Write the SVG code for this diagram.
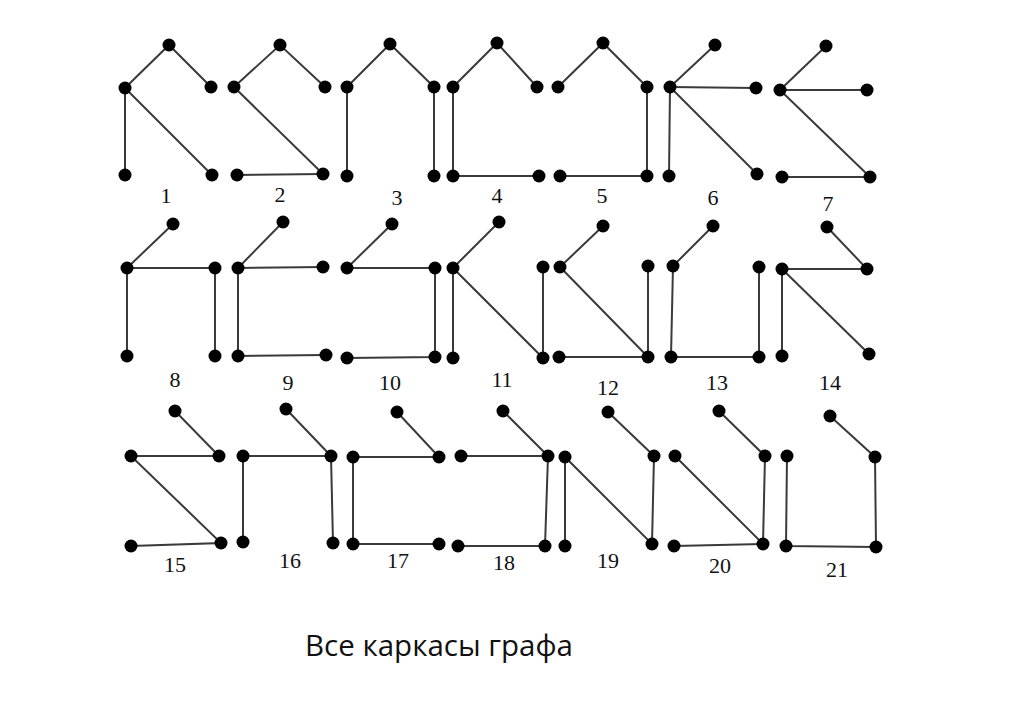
<svg xmlns="http://www.w3.org/2000/svg" width="1024" height="723" viewBox="0 0 1024 723">
<style>
.e{stroke:#3a3a3a;stroke-width:2;fill:none}
.v{fill:#000}
.lbl{font-family:"Liberation Serif","DejaVu Serif",serif;font-size:22px;fill:#111;text-anchor:middle}
.title{font-family:"Open Sans","Noto Sans",sans-serif;font-size:29px;fill:#111}
</style>
<rect width="1024" height="723" fill="#fff"/>
<g id="connectors">
<polyline class="e" points="125,88 169,45 211,87"/><line class="e" x1="125" y1="88" x2="125" y2="175"/><line class="e" x1="125" y1="88" x2="212" y2="175"/>
<polyline class="e" points="234,87 280,45 325,87"/><line class="e" x1="234" y1="87" x2="323" y2="174"/><line class="e" x1="237" y1="175" x2="323" y2="174"/>
<polyline class="e" points="347,87 390,44 434,87"/><line class="e" x1="347" y1="87" x2="347" y2="176"/><line class="e" x1="434" y1="87" x2="434" y2="176"/>
<polyline class="e" points="453,87 497,43 537,87"/><polyline class="e" points="453,87 453,176 539,176"/>
<polyline class="e" points="558,87 603,43 647,87 647,176 560,176"/>
<line class="e" x1="670" y1="87" x2="715" y2="45"/><line class="e" x1="670" y1="87" x2="756" y2="88"/><line class="e" x1="670" y1="87" x2="669" y2="176"/><line class="e" x1="670" y1="87" x2="757" y2="174"/>
<line class="e" x1="780" y1="90" x2="826" y2="46"/><line class="e" x1="780" y1="90" x2="867" y2="90"/><polyline class="e" points="780,90 870,177 782,177"/>
<line class="e" x1="127" y1="268" x2="173" y2="224"/><line class="e" x1="127" y1="268" x2="215" y2="268"/><line class="e" x1="127" y1="268" x2="127" y2="356"/><line class="e" x1="215" y1="268" x2="215" y2="356"/>
<line class="e" x1="238" y1="268" x2="283" y2="222"/><line class="e" x1="238" y1="268" x2="323" y2="267"/><polyline class="e" points="238,268 238,356 326,355"/>
<line class="e" x1="347" y1="268" x2="392" y2="224"/><polyline class="e" points="347,268 435,268 435,357 347,358"/>
<line class="e" x1="453" y1="268" x2="499" y2="222"/><line class="e" x1="453" y1="268" x2="453" y2="358"/><polyline class="e" points="453,268 543,358 543,267"/>
<line class="e" x1="560" y1="267" x2="603" y2="226"/><polyline class="e" points="560,267 648,357 648,266"/><line class="e" x1="559" y1="357" x2="648" y2="357"/>
<line class="e" x1="673" y1="266" x2="713" y2="226"/><polyline class="e" points="673,266 671,357 759,357 759,267"/>
<polyline class="e" points="827,227 867,269 782,269 782,356"/><line class="e" x1="782" y1="269" x2="869" y2="354"/>
<polyline class="e" points="175,411 219,456 131,456 221,543 131,546"/>
<polyline class="e" points="286,409 331,456 333,543"/><polyline class="e" points="331,456 243,456 243,542"/>
<polyline class="e" points="397,412 439,457 353,457 353,544 439,544"/>
<polyline class="e" points="503,411 548,456 461,456"/><polyline class="e" points="548,456 545,546 458,546"/>
<polyline class="e" points="608,412 654,456 652,544 565,457 565,546"/>
<polyline class="e" points="719,411 765,456 763,544 675,456"/><line class="e" x1="674" y1="546" x2="763" y2="544"/>
<polyline class="e" points="830,416 875,457 876,547 786,546 787,456"/>
</g>
<g id="tree1"><circle class="v" cx="169" cy="45" r="6.5"/><circle class="v" cx="125" cy="88" r="6.5"/><circle class="v" cx="211" cy="87" r="6.5"/><circle class="v" cx="125" cy="175" r="6.5"/><circle class="v" cx="212" cy="175" r="6.5"/><text class="lbl" x="166" y="203">1</text></g>
<g id="tree2"><circle class="v" cx="280" cy="45" r="6.5"/><circle class="v" cx="234" cy="87" r="6.5"/><circle class="v" cx="325" cy="87" r="6.5"/><circle class="v" cx="237" cy="175" r="6.5"/><circle class="v" cx="323" cy="174" r="6.5"/><text class="lbl" x="280" y="202">2</text></g>
<g id="tree3"><circle class="v" cx="390" cy="44" r="6.5"/><circle class="v" cx="347" cy="87" r="6.5"/><circle class="v" cx="434" cy="87" r="6.5"/><circle class="v" cx="347" cy="176" r="6.5"/><circle class="v" cx="434" cy="176" r="6.5"/><text class="lbl" x="397" y="205">3</text></g>
<g id="tree4"><circle class="v" cx="497" cy="43" r="6.5"/><circle class="v" cx="453" cy="87" r="6.5"/><circle class="v" cx="537" cy="87" r="6.5"/><circle class="v" cx="453" cy="176" r="6.5"/><circle class="v" cx="539" cy="176" r="6.5"/><text class="lbl" x="497" y="203">4</text></g>
<g id="tree5"><circle class="v" cx="603" cy="43" r="6.5"/><circle class="v" cx="558" cy="87" r="6.5"/><circle class="v" cx="647" cy="87" r="6.5"/><circle class="v" cx="560" cy="176" r="6.5"/><circle class="v" cx="647" cy="176" r="6.5"/><text class="lbl" x="602" y="203">5</text></g>
<g id="tree6"><circle class="v" cx="715" cy="45" r="6.5"/><circle class="v" cx="670" cy="87" r="6.5"/><circle class="v" cx="756" cy="88" r="6.5"/><circle class="v" cx="669" cy="176" r="6.5"/><circle class="v" cx="757" cy="174" r="6.5"/><text class="lbl" x="713" y="205">6</text></g>
<g id="tree7"><circle class="v" cx="826" cy="46" r="6.5"/><circle class="v" cx="780" cy="90" r="6.5"/><circle class="v" cx="867" cy="90" r="6.5"/><circle class="v" cx="782" cy="177" r="6.5"/><circle class="v" cx="870" cy="177" r="6.5"/><text class="lbl" x="828" y="211">7</text></g>
<g id="tree8"><circle class="v" cx="173" cy="224" r="6.5"/><circle class="v" cx="127" cy="268" r="6.5"/><circle class="v" cx="215" cy="268" r="6.5"/><circle class="v" cx="127" cy="356" r="6.5"/><circle class="v" cx="215" cy="356" r="6.5"/><text class="lbl" x="175" y="387">8</text></g>
<g id="tree9"><circle class="v" cx="283" cy="222" r="6.5"/><circle class="v" cx="238" cy="268" r="6.5"/><circle class="v" cx="323" cy="267" r="6.5"/><circle class="v" cx="238" cy="356" r="6.5"/><circle class="v" cx="326" cy="355" r="6.5"/><text class="lbl" x="288" y="390">9</text></g>
<g id="tree10"><circle class="v" cx="392" cy="224" r="6.5"/><circle class="v" cx="347" cy="268" r="6.5"/><circle class="v" cx="435" cy="268" r="6.5"/><circle class="v" cx="347" cy="358" r="6.5"/><circle class="v" cx="435" cy="357" r="6.5"/><text class="lbl" x="390" y="390">10</text></g>
<g id="tree11"><circle class="v" cx="499" cy="222" r="6.5"/><circle class="v" cx="453" cy="268" r="6.5"/><circle class="v" cx="543" cy="267" r="6.5"/><circle class="v" cx="453" cy="358" r="6.5"/><circle class="v" cx="543" cy="358" r="6.5"/><text class="lbl" x="502" y="387">11</text></g>
<g id="tree12"><circle class="v" cx="603" cy="226" r="6.5"/><circle class="v" cx="560" cy="267" r="6.5"/><circle class="v" cx="648" cy="266" r="6.5"/><circle class="v" cx="559" cy="357" r="6.5"/><circle class="v" cx="648" cy="357" r="6.5"/><text class="lbl" x="608" y="395">12</text></g>
<g id="tree13"><circle class="v" cx="713" cy="226" r="6.5"/><circle class="v" cx="673" cy="266" r="6.5"/><circle class="v" cx="759" cy="267" r="6.5"/><circle class="v" cx="671" cy="357" r="6.5"/><circle class="v" cx="759" cy="357" r="6.5"/><text class="lbl" x="717" y="390">13</text></g>
<g id="tree14"><circle class="v" cx="827" cy="227" r="6.5"/><circle class="v" cx="782" cy="269" r="6.5"/><circle class="v" cx="867" cy="269" r="6.5"/><circle class="v" cx="782" cy="356" r="6.5"/><circle class="v" cx="869" cy="354" r="6.5"/><text class="lbl" x="830" y="390">14</text></g>
<g id="tree15"><circle class="v" cx="175" cy="411" r="6.5"/><circle class="v" cx="131" cy="456" r="6.5"/><circle class="v" cx="219" cy="456" r="6.5"/><circle class="v" cx="131" cy="546" r="6.5"/><circle class="v" cx="221" cy="543" r="6.5"/><text class="lbl" x="175" y="572">15</text></g>
<g id="tree16"><circle class="v" cx="286" cy="409" r="6.5"/><circle class="v" cx="243" cy="456" r="6.5"/><circle class="v" cx="331" cy="456" r="6.5"/><circle class="v" cx="243" cy="542" r="6.5"/><circle class="v" cx="333" cy="543" r="6.5"/><text class="lbl" x="290" y="568">16</text></g>
<g id="tree17"><circle class="v" cx="397" cy="412" r="6.5"/><circle class="v" cx="353" cy="457" r="6.5"/><circle class="v" cx="439" cy="457" r="6.5"/><circle class="v" cx="353" cy="544" r="6.5"/><circle class="v" cx="439" cy="544" r="6.5"/><text class="lbl" x="398" y="568">17</text></g>
<g id="tree18"><circle class="v" cx="503" cy="411" r="6.5"/><circle class="v" cx="461" cy="456" r="6.5"/><circle class="v" cx="548" cy="456" r="6.5"/><circle class="v" cx="458" cy="546" r="6.5"/><circle class="v" cx="545" cy="546" r="6.5"/><text class="lbl" x="504" y="570">18</text></g>
<g id="tree19"><circle class="v" cx="608" cy="412" r="6.5"/><circle class="v" cx="565" cy="457" r="6.5"/><circle class="v" cx="654" cy="456" r="6.5"/><circle class="v" cx="565" cy="546" r="6.5"/><circle class="v" cx="652" cy="544" r="6.5"/><text class="lbl" x="608" y="568">19</text></g>
<g id="tree20"><circle class="v" cx="719" cy="411" r="6.5"/><circle class="v" cx="675" cy="456" r="6.5"/><circle class="v" cx="765" cy="456" r="6.5"/><circle class="v" cx="674" cy="546" r="6.5"/><circle class="v" cx="763" cy="544" r="6.5"/><text class="lbl" x="720" y="573">20</text></g>
<g id="tree21"><circle class="v" cx="830" cy="416" r="6.5"/><circle class="v" cx="787" cy="456" r="6.5"/><circle class="v" cx="875" cy="457" r="6.5"/><circle class="v" cx="786" cy="546" r="6.5"/><circle class="v" cx="876" cy="547" r="6.5"/><text class="lbl" x="837" y="577">21</text></g>
<text class="title" x="305" y="656" textLength="268" lengthAdjust="spacingAndGlyphs">Все каркасы графа</text>
</svg>
